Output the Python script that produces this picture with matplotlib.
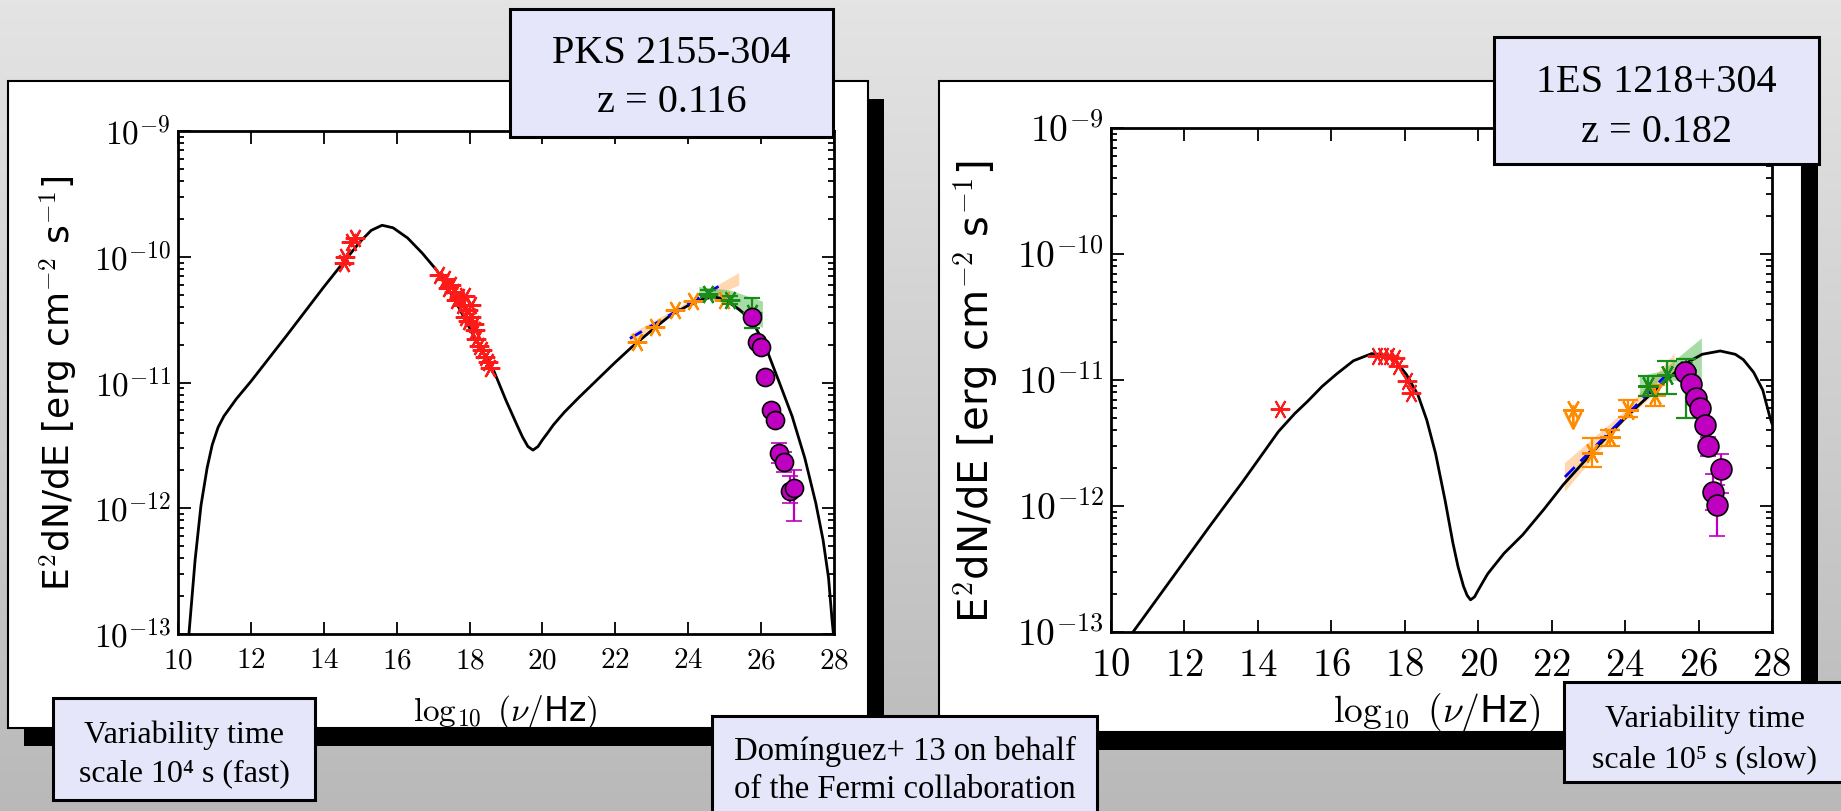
import numpy as np
import matplotlib
matplotlib.use("Agg")
import matplotlib.pyplot as plt
from matplotlib.patches import Rectangle
from matplotlib.colors import LinearSegmentedColormap
from matplotlib.ticker import FixedLocator, FuncFormatter, LogLocator, NullFormatter

plt.rcParams['mathtext.fontset'] = 'cm'
plt.rcParams['font.family'] = ['DejaVu Sans']

# ---------------- PKS 2155-304 ----------------
pks_model_x = [10.30, 10.47, 10.63, 10.80, 10.94, 11.10, 11.26, 11.60, 12.00, 13.00,
               14.00, 14.60, 15.00, 15.30, 15.60, 15.90, 16.30, 16.70, 17.10, 17.60,
               18.10, 18.67, 19.00, 19.30, 19.45, 19.60, 19.74, 19.88, 20.00, 20.15,
               20.30, 20.60, 21.00, 21.50, 22.00, 22.44, 23.00, 23.50, 24.00, 24.40,
               24.70, 25.00, 25.40, 25.75, 26.10, 26.50, 26.85, 27.20, 27.50, 27.70,
               27.85, 27.95, 28.00]
pks_model_y = [1.0e-13, 3.9e-13, 1.05e-12, 2.1e-12, 3.2e-12, 4.4e-12, 5.4e-12, 7.4e-12, 1.02e-11, 2.4e-11,
               5.75e-11, 9.5e-11, 1.32e-10, 1.62e-10, 1.78e-10, 1.70e-10, 1.41e-10, 1.07e-10, 7.8e-11, 4.5e-11,
               2.4e-11, 1.23e-11, 7.2e-12, 4.6e-12, 3.7e-12, 3.1e-12, 2.9e-12, 3.1e-12, 3.5e-12, 4.0e-12,
               4.6e-12, 5.8e-12, 7.6e-12, 1.05e-11, 1.45e-11, 1.9e-11, 2.6e-11, 3.4e-11, 4.1e-11, 4.6e-11,
               4.8e-11, 4.6e-11, 3.8e-11, 3.1e-11, 2.0e-11, 1.0e-11, 5.4e-12, 2.5e-12, 1.1e-12, 5.6e-13,
               2.8e-13, 1.26e-13, 9e-14]

pks_opt_x = [14.55, 14.58, 14.75, 14.85]
pks_opt_y = [9.0e-11, 1.0e-10, 1.3e-10, 1.42e-10]

pks_xray_x = [17.17, 17.32, 17.48, 17.40, 17.56, 17.72, 17.64, 17.88, 17.80, 17.96, 18.03,
              18.11, 17.96, 18.16, 18.19, 18.27, 18.35, 18.43, 18.51, 18.55, 18.03, 17.88]
pks_xray_y = [7.2e-11, 6.6e-11, 6.0e-11, 5.6e-11, 5.2e-11, 4.8e-11, 4.5e-11, 4.9e-11, 4.1e-11, 3.8e-11, 3.3e-11,
              2.9e-11, 3.1e-11, 2.6e-11, 2.2e-11, 1.95e-11, 1.8e-11, 1.6e-11, 1.45e-11, 1.3e-11, 4.1e-11, 3.3e-11]

pks_lat_x = [22.59, 23.09, 23.64, 24.14, 24.97]
pks_lat_y = [2.1e-11, 2.75e-11, 3.8e-11, 4.45e-11, 4.55e-11]

pks_lathe_x = [24.55, 25.15, 25.74]
pks_lathe_y = [5.1e-11, 4.55e-11, 3.55e-11]
pks_lathe_lo = [4.8e-11, 4.2e-11, 2.7e-11]
pks_lathe_hi = [5.4e-11, 4.9e-11, 4.7e-11]

pks_fit_x = [22.40, 25.00]
pks_fit_y = [2.24e-11, 6.2e-11]
pks_band_x = [22.40, 23.70, 25.40, 25.40, 23.70, 22.40]
pks_band_y = [2.4e-11, 3.9e-11, 7.4e-11, 5.9e-11, 3.63e-11, 2.0e-11]
pks_gband_x = [24.30, 25.15, 26.05, 26.05, 25.15, 24.30]
pks_gband_y = [5.75e-11, 5.4e-11, 4.4e-11, 2.7e-11, 4.1e-11, 4.9e-11]

pks_vhe_x = [25.74, 25.88, 25.99, 26.11, 26.27, 26.38, 26.49, 26.62, 26.78, 26.89]
pks_vhe_y = [3.3e-11, 2.1e-11, 1.9e-11, 1.1e-11, 6.0e-12, 5.0e-12, 2.75e-12, 2.35e-12, 1.38e-12, 1.45e-12]
pks_vhe_lo = [3.1e-11, 2.0e-11, 1.8e-11, 1.03e-11, 5.5e-12, 4.6e-12, 2.3e-12, 1.95e-12, 1.1e-12, 7.9e-13]
pks_vhe_hi = [3.5e-11, 2.2e-11, 2.0e-11, 1.17e-11, 6.5e-12, 5.5e-12, 3.3e-12, 2.8e-12, 1.8e-12, 2.0e-12]

# ---------------- 1ES 1218+304 ----------------
es_model_x = [10.60, 11.50, 12.67, 13.60, 14.56, 15.00, 15.36, 15.75, 16.15, 16.60,
              17.10, 17.45, 17.73, 18.05, 18.36, 18.60, 18.84, 19.10, 19.31, 19.45,
              19.60, 19.70, 19.79, 19.90, 20.00, 20.13, 20.26, 20.70, 21.21, 21.80,
              22.32, 23.27, 24.00, 24.85, 25.64, 26.10, 26.59, 27.00, 27.22, 27.50,
              27.75, 27.94, 28.00]
es_model_y = [1.0e-13, 2.3e-13, 6.8e-13, 1.58e-12, 3.9e-12, 5.4e-12, 6.8e-12, 8.9e-12, 1.12e-11, 1.42e-11,
              1.62e-11, 1.58e-11, 1.45e-11, 1.1e-11, 7.6e-12, 4.8e-12, 2.6e-12, 1.1e-12, 5.1e-13, 3.3e-13,
              2.3e-13, 1.95e-13, 1.8e-13, 1.9e-13, 2.15e-13, 2.5e-13, 2.9e-13, 4.2e-13, 5.9e-13, 9.5e-13,
              1.48e-12, 3.0e-12, 5.0e-12, 8.5e-12, 1.35e-11, 1.6e-11, 1.7e-11, 1.6e-11, 1.45e-11, 1.15e-11,
              8.3e-12, 5.1e-12, 4.5e-12]

es_sync_x = [14.61, 17.25, 17.41, 17.57, 17.73, 17.81, 18.05, 18.17]
es_sync_y = [5.9e-12, 1.55e-11, 1.55e-11, 1.55e-11, 1.5e-11, 1.29e-11, 9.8e-12, 7.9e-12]

es_ul_x = [22.59]
es_ul_y = [5.8e-12]

es_lat_x = [23.09, 23.59, 24.09, 24.81]
es_lat_y = [2.63e-12, 3.55e-12, 5.75e-12, 7.6e-12]
es_lat_lo = [2.04e-12, 3.02e-12, 5.1e-12, 6.2e-12]
es_lat_hi = [3.47e-12, 3.98e-12, 6.9e-12, 9.1e-12]

es_lathe_x = [24.61, 25.13, 25.66]
es_lathe_y = [8.9e-12, 1.1e-11, 1.2e-11]
es_lathe_lo = [7.4e-12, 7.8e-12, 5.0e-12]
es_lathe_hi = [1.07e-11, 1.41e-11, 1.48e-11]

es_fit_x = [22.36, 25.22]
es_fit_y = [1.7e-12, 1.17e-11]
es_band_x = [22.36, 23.95, 25.35, 25.35, 23.95, 22.36]
es_band_y = [2.19e-12, 5.5e-12, 1.62e-11, 1.07e-11, 4.57e-12, 1.29e-12]
es_gband_x = [24.40, 25.00, 26.09, 26.09, 25.00, 24.40]
es_gband_y = [1.07e-11, 1.17e-11, 2.14e-11, 9.5e-12, 1.0e-11, 7.4e-12]

es_vhe_x = [25.64, 25.80, 25.93, 26.04, 26.17, 26.27, 26.62, 26.40, 26.51]
es_vhe_y = [1.15e-11, 9.3e-12, 7.2e-12, 6.0e-12, 4.4e-12, 3.0e-12, 1.95e-12, 1.29e-12, 1.02e-12]
es_vhe_lo = [1.05e-11, 8.5e-12, 6.6e-12, 5.4e-12, 3.9e-12, 2.5e-12, 1.26e-12, 9.3e-13, 5.8e-13]
es_vhe_hi = [1.25e-11, 1.01e-11, 7.8e-12, 6.6e-12, 4.9e-12, 3.55e-12, 2.57e-12, 1.78e-12, 1.48e-12]

x_ticks = [10, 12, 14, 16, 18, 20, 22, 24, 26, 28]
y_ticks = [1e-13, 1e-12, 1e-11, 1e-10, 1e-9]

ylabel_text = r"E$^2$dN/dE [erg cm$^{-2}$ s$^{-1}$]"
xlabel_text = r"$\log_{10}\ (\nu/$Hz$)$"

RED, ORANGE, GREEN, MAG, BLUE = '#ff1a1a', '#ff8c00', '#1a8c1a', '#c000c0', '#0000ff'
AST = (6, 2, 90)

W, H = 1841, 811
fig = plt.figure(figsize=(W / 100, H / 100), dpi=100)


def frac(x0, y0, x1, y1):
    return [x0 / W, 1 - y1 / H, (x1 - x0) / W, (y1 - y0) / H]


# slide background with panels and their drop shadows
bg = fig.add_axes([0, 0, 1, 1], zorder=-10)
grad = np.linspace(0, 1, 256)[:, None]
bg.imshow(grad, cmap=LinearSegmentedColormap.from_list('bg', ['#e4e4e4', '#b9b9b9']),
          extent=[0, W, H, 0], aspect='auto')
bg.set_xlim(0, W)
bg.set_ylim(H, 0)
bg.axis('off')

for (x0, y0, x1, y1) in [(8, 81, 868, 728), (939, 81, 1802, 732)]:
    bg.add_patch(Rectangle((x0 + 16, y0 + 18), x1 - x0, y1 - y0, facecolor='black', edgecolor='none', zorder=1))
    bg.add_patch(Rectangle((x0, y0), x1 - x0, y1 - y0, facecolor='white', edgecolor='black', lw=1.5, zorder=2))

# axis titles
bg.text(59, 383, ylabel_text, rotation=90, ha='center', va='center', fontsize=26, zorder=5)
bg.text(505, 712, xlabel_text, ha='center', va='center', fontsize=24, zorder=5)
bg.text(976, 392, ylabel_text, rotation=90, ha='center', va='center', fontsize=29, zorder=5)
bg.text(1437, 712, xlabel_text, ha='center', va='center', fontsize=27, zorder=5)


def style_axes(ax, xfs, yfs, xpad, ypad):
    ax.set_xlim(10, 28)
    ax.set_yscale('log')
    ax.set_ylim(1e-13, 1e-9)
    ax.xaxis.set_major_locator(FixedLocator(x_ticks))
    ax.xaxis.set_major_formatter(FuncFormatter(lambda v, p: r'$%d$' % round(v)))
    ax.yaxis.set_major_locator(FixedLocator(y_ticks))
    ax.yaxis.set_major_formatter(FuncFormatter(lambda v, p: r'$10^{%d}$' % round(np.log10(v))))
    ax.yaxis.set_minor_locator(LogLocator(base=10, subs=np.arange(2, 10), numticks=20))
    ax.yaxis.set_minor_formatter(NullFormatter())
    ax.tick_params(which='both', direction='in', top=True, right=True, width=1.3, color='black')
    ax.tick_params(which='major', length=9)
    ax.tick_params(which='minor', length=4.5)
    ax.tick_params(axis='x', labelsize=xfs, pad=xpad)
    ax.tick_params(axis='y', labelsize=yfs, pad=ypad)
    for s in ax.spines.values():
        s.set_linewidth(2)


def vhe(ax, x, y, lo, hi, ms):
    y = np.asarray(y)
    ax.errorbar(x, y, yerr=[y - np.asarray(lo), np.asarray(hi) - y], fmt='o', ms=ms,
                mfc=MAG, mec='black', mew=1.2, ecolor=MAG, elinewidth=1.6, capsize=6, capthick=1.6, zorder=7)


# ---- left panel ----
axL = fig.add_axes(frac(178, 131, 834, 634), zorder=1)
style_axes(axL, 21, 24, 9, 5)
axL.fill(pks_band_x, pks_band_y, color='#ffb870', alpha=0.55, lw=0, zorder=2)
axL.fill(pks_gband_x, pks_gband_y, color='#3cb33c', alpha=0.45, lw=0, zorder=2)
axL.plot(pks_model_x, pks_model_y, color='black', lw=2, zorder=3)
axL.plot(pks_fit_x, pks_fit_y, color=BLUE, lw=2, ls='--', dashes=(5, 3), zorder=4)
axL.plot(pks_opt_x, pks_opt_y, ls='none', marker=AST, ms=14, mec=RED, mew=1.6, zorder=5)
axL.plot(pks_xray_x, pks_xray_y, ls='none', marker=AST, ms=14, mec=RED, mew=1.6, zorder=5)
axL.plot(pks_lat_x, pks_lat_y, ls='none', marker=AST, ms=14, mec=ORANGE, mew=1.6, zorder=5)
yg = np.asarray(pks_lathe_y)
axL.errorbar(pks_lathe_x, yg, yerr=[yg - np.asarray(pks_lathe_lo), np.asarray(pks_lathe_hi) - yg],
             fmt='none', ecolor=GREEN, elinewidth=1.6, capsize=6, capthick=1.6, zorder=5)
axL.plot(pks_lathe_x, pks_lathe_y, ls='none', marker=AST, ms=14, mec=GREEN, mew=1.6, zorder=5)
vhe(axL, pks_vhe_x, pks_vhe_y, pks_vhe_lo, pks_vhe_hi, 13)

# ---- right panel ----
axR = fig.add_axes(frac(1111, 128, 1772, 632), zorder=1)
style_axes(axR, 28, 27, 10, 5)
axR.fill(es_band_x, es_band_y, color='#ffb870', alpha=0.55, lw=0, zorder=2)
axR.fill(es_gband_x, es_gband_y, color='#3cb33c', alpha=0.45, lw=0, zorder=2)
axR.plot(es_model_x, es_model_y, color='black', lw=2, zorder=3)
axR.plot(es_fit_x, es_fit_y, color=BLUE, lw=2, ls='--', dashes=(5, 3), zorder=4)
axR.plot(es_sync_x, es_sync_y, ls='none', marker=AST, ms=14, mec=RED, mew=1.4, zorder=5)
yo = np.asarray(es_lat_y)
axR.errorbar(es_lat_x, yo, yerr=[yo - np.asarray(es_lat_lo), np.asarray(es_lat_hi) - yo],
             fmt='none', ecolor=ORANGE, elinewidth=1.6, capsize=7, capthick=1.6, zorder=5)
axR.plot(es_lat_x, es_lat_y, ls='none', marker=AST, ms=15, mec=ORANGE, mew=1.6, zorder=5)
for ux, uy in zip(es_ul_x, es_ul_y):
    axR.annotate('', xy=(ux, uy * 0.64), xytext=(ux, uy * 1.12),
                 arrowprops=dict(arrowstyle='->', color=ORANGE, lw=2.0, mutation_scale=28), zorder=5)
axR.plot(es_ul_x, es_ul_y, ls='none', marker=AST, ms=15, mec=ORANGE, mew=1.6, zorder=5)
yg = np.asarray(es_lathe_y)
axR.errorbar(es_lathe_x, yg, yerr=[yg - np.asarray(es_lathe_lo), np.asarray(es_lathe_hi) - yg],
             fmt='none', ecolor=GREEN, elinewidth=1.6, capsize=7, capthick=1.6, zorder=5)
axR.plot(es_lathe_x, es_lathe_y, ls='none', marker=AST, ms=15, mec=GREEN, mew=1.6, zorder=5)
vhe(axR, es_vhe_x, es_vhe_y, es_vhe_lo, es_vhe_hi, 15)

# ---- annotation boxes ----
ov = fig.add_axes([0, 0, 1, 1], zorder=10)
ov.set_xlim(0, W)
ov.set_ylim(H, 0)
ov.axis('off')

SERIF = ['Liberation Serif', 'DejaVu Serif']
boxes = [
    ((510, 9, 833, 137), 29, [("PKS 2155-304", 63), ("z = 0.116", 112)]),
    ((1494, 37, 1819, 164), 29, [("1ES 1218+304", 92), ("z = 0.182", 142)]),
    ((53, 698, 315, 800), 23, [("Variability time", 743), ("scale 10\u2074 s (fast)", 781)]),
    ((712, 716, 1097, 830), 23.5, [("Dom\u00ednguez+ 13 on behalf", 760), ("of the Fermi collaboration", 798)]),
    ((1564, 682, 1846, 782), 23, [("Variability time", 727), ("scale 10\u2075 s (slow)", 767)]),
]
for (x0, y0, x1, y1), fs, lines in boxes:
    ov.add_patch(Rectangle((x0, y0), x1 - x0, y1 - y0, facecolor='#e6e6fa', edgecolor='black', lw=2.2))
    for txt, yb in lines:
        ov.text((x0 + x1) / 2, yb, txt, ha='center', va='baseline', fontsize=fs, family=SERIF)

fig.savefig('out.png', dpi=100)
